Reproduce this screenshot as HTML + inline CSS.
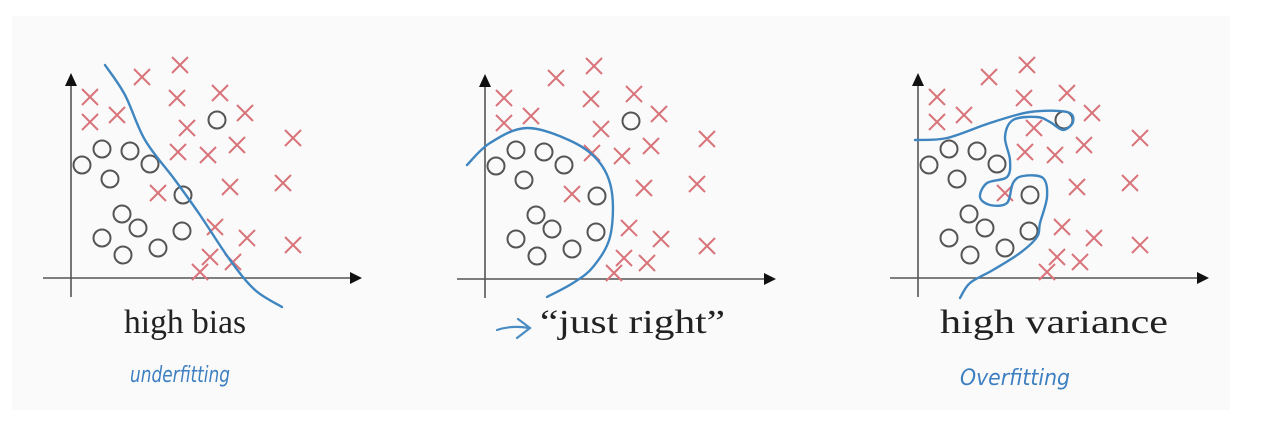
<!DOCTYPE html>
<html><head><meta charset="utf-8"><style>
html,body{margin:0;padding:0;background:#fff;width:1274px;height:422px;overflow:hidden}
svg{display:block}
</style></head><body>
<svg id="fig" width="1274" height="422" viewBox="0 0 1274 422">
  <rect x="12" y="16" width="1218" height="394" fill="#fafafa"/>
  <g id="panels"></g>
  <text x="124" y="333" font-family="Liberation Serif, serif" font-size="34" fill="#222" textLength="122" lengthAdjust="spacingAndGlyphs">high bias</text>
  <path d="M497,330 Q512,325 529,328 M518,319 L530,328 L517,338" fill="none" stroke="#4a8cc4" stroke-width="2.2" stroke-linecap="round"/>
  <text x="540" y="333" font-family="Liberation Serif, serif" font-size="34" fill="#222" textLength="185" lengthAdjust="spacingAndGlyphs">“just right”</text>
  <text x="940" y="333" font-family="Liberation Serif, serif" font-size="34" fill="#222" textLength="228" lengthAdjust="spacingAndGlyphs">high variance</text>
  <text x="130" y="382" font-family="DejaVu Sans, sans-serif" font-style="italic" font-size="22" fill="#3d7fc0" textLength="100" lengthAdjust="spacingAndGlyphs">underfitting</text>
  <text x="960" y="385" font-family="DejaVu Sans, sans-serif" font-style="italic" font-size="22" fill="#3d7fc0" textLength="110" lengthAdjust="spacingAndGlyphs">Overfitting</text>
</svg>
<script>
const crossX = [90,90,117,142,180,177,220,245,187,178,208,237,293,158,230,283,215,247,293,210,233,200];
const crossY = [97,122,115,77,65,98,93,113,128,152,155,145,138,193,187,183,227,238,245,257,262,272];
const circleX = [82,102,130,150,110,217,183,122,138,182,102,123,158];
const circleY = [165,149,151,164,179,120,195,214,228,231,238,255,248];
const panelOffsetX = [0,414,847];
const panelOffsetY = [0,1,0];
const curveBias = [[105,65],[125,95],[145,140],[175,180],[200,215],[230,260],[255,290],[282,307]];
const curveRight = [[467,165],[490,143],[527,128],[573,142],[600,163],[612,193],[610,237],[593,267],[573,283],[547,297]];
const curveVar = [[915,140],[947,138],[990,123],[1030,112],[1067,112],[1073,122],[1063,130],[1050,122],[1037,117],[1013,120],[1005,137],[1010,160],[1007,177],[987,183],[980,197],[990,205],[1007,203],[1013,183],[1023,176],[1043,178],[1047,197],[1040,223],[1037,237],[1020,253],[993,270],[970,283],[960,298]];

const NS='http://www.w3.org/2000/svg';
const root=document.getElementById('panels');
function mk(tag,attrs){const e=document.createElementNS(NS,tag);for(const k in attrs)e.setAttribute(k,attrs[k]);return e;}
function smooth(pts){
  let d='M'+pts[0][0]+','+pts[0][1];
  for(let i=0;i<pts.length-1;i++){
    const p0=pts[Math.max(0,i-1)],p1=pts[i],p2=pts[i+1],p3=pts[Math.min(pts.length-1,i+2)];
    const c1x=p1[0]+(p2[0]-p0[0])/6,c1y=p1[1]+(p2[1]-p0[1])/6;
    const c2x=p2[0]-(p3[0]-p1[0])/6,c2y=p2[1]-(p3[1]-p1[1])/6;
    d+=' C'+c1x+','+c1y+' '+c2x+','+c2y+' '+p2[0]+','+p2[1];
  }
  return d;
}
const curves=[curveBias,curveRight,curveVar];
const names=['panel-high-bias','panel-just-right','panel-high-variance'];
panelOffsetX.forEach((ox,pi)=>{
  const oy=panelOffsetY[pi];
  const g=mk('g',{});
  
  
  root.appendChild(g);
  const ax=mk('path',{d:`M${71+ox},${297+oy} L${71+ox},${84+oy} M${43+ox},${278+oy} L${352+ox},${278+oy}`,stroke:'#555',fill:'none','stroke-width':1.6});
  
  
  g.appendChild(ax);
  const ah=mk('path',{d:`M${65+ox},${86+oy} L${71+ox},${73+oy} L${77+ox},${86+oy} Z M${350+ox},${272+oy} L${362+ox},${278+oy} L${350+ox},${284+oy} Z`,fill:'#111'});
  
  
  g.appendChild(ah);
  circleX.forEach((x,i)=>{
    const c=mk('circle',{cx:x+ox,cy:circleY[i]+oy,r:8.5,fill:'none',stroke:'#555','stroke-width':2});
    
    
    g.appendChild(c);
  });
  crossX.forEach((x,i)=>{
    const cx=x+ox,cy=crossY[i]+oy,s=8;
    const p=mk('path',{d:`M${cx-s},${cy-s} L${cx+s},${cy+s} M${cx+s},${cy-s} L${cx-s},${cy+s}`,stroke:'#d9737a','stroke-width':2,fill:'none'});
    
    
    g.appendChild(p);
  });
  const cv=mk('path',{d:smooth(curves[pi]),fill:'none',stroke:'#3f86c0','stroke-width':2.4,'stroke-linecap':'round','stroke-linejoin':'round'});
  
  
  g.appendChild(cv);
});
</script>
</body></html>
